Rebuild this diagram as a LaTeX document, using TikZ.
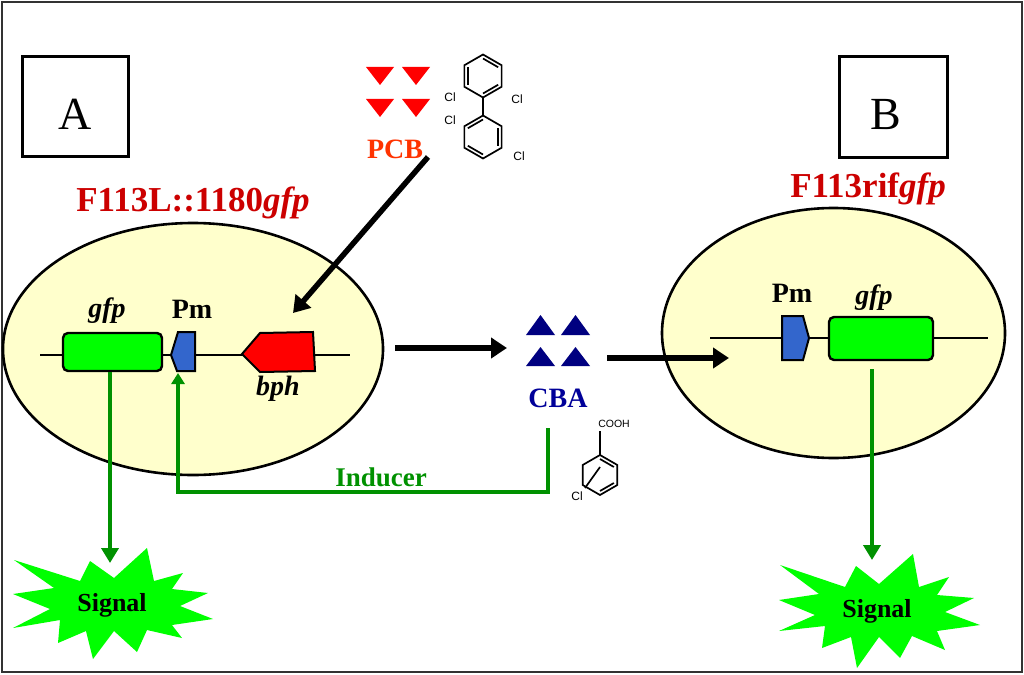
\documentclass[tikz,border=0pt]{standalone}
\usepackage{fontspec}
\setmainfont{Liberation Serif}
\newfontfamily\arialfont{Liberation Sans}
\usetikzlibrary{arrows.meta}
\definecolor{cellyellow}{RGB}{255,255,204}
\definecolor{genegreen}{RGB}{0,255,0}
\definecolor{pmblue}{RGB}{51,102,204}
\definecolor{bphred}{RGB}{255,0,0}
\definecolor{titlered}{RGB}{204,0,0}
\definecolor{pcborange}{RGB}{255,51,0}
\definecolor{cbablue}{RGB}{0,0,153}
\definecolor{trinavy}{RGB}{0,0,128}
\definecolor{arrowgreen}{RGB}{0,145,0}
\definecolor{framegray}{RGB}{50,50,50}
\begin{document}
\begin{tikzpicture}[x=1pt,y=-1pt,
  cell/.style={draw=black,line width=2.6,fill=cellyellow},
  dna/.style={draw=black,line width=2.2},
  genebox/.style={draw=black,line width=2.4,fill=genegreen,rounded corners=5,inner sep=0},
  genepoly/.style={draw=black,line width=2},
  lbl/.style={font=\fontsize{28}{30}\selectfont\bfseries,inner sep=0,anchor=base},
  title/.style={font=\fontsize{35}{38}\selectfont\bfseries,text=titlered,inner sep=0,anchor=base},
  letterbox/.style={draw=black,line width=3,fill=white},
  bigarrow/.style={draw=black,line width=5.5,-{Triangle[length=16,width=20]}},
  greenarrow/.style={draw=arrowgreen,line width=4.5,-{Triangle[length=15,width=17]}},
  inducerarrow/.style={draw=arrowgreen,line width=4,-{Triangle[length=11,width=13]}},
  bond/.style={draw=black,line width=1.7},
  chemlbl/.style={font=\arialfont\fontsize{12}{13}\selectfont,inner sep=0},
  sigtext/.style={font=\fontsize{26}{28}\selectfont\bfseries,inner sep=0,anchor=base}
]
\useasboundingbox (0,0) rectangle (1024,674);
\fill[white] (0,0) rectangle (1024,674);
\draw[draw=framegray,line width=2.5] (2,2) rectangle (1022,672);

% letter boxes
\draw[letterbox] (22,57) rectangle (128,156);
\node[inner sep=0,anchor=base,font=\fontsize{46}{48}\selectfont] (lblA) at (75,129) {A};
\draw[letterbox] (839,57) rectangle (947,157);
\node[inner sep=0,anchor=base,font=\fontsize{46}{48}\selectfont] (lblB) at (886,129) {B};

% titles
\node[title] (titleL) at (193,211) {F113L::1180\textit{gfp}};
\node[title] (titleR) at (868,197) {F113rif\textit{gfp}};

% cells
\draw[cell] (193,349) ellipse [x radius=190, y radius=126];
\draw[cell] (833.5,333) ellipse [x radius=171.5, y radius=125];

% left construct
\draw[dna] (40,355) -- (350,355);
\node[genebox,minimum width=99,minimum height=38] (gfpL) at (112.5,352) {};
\draw[genepoly,fill=pmblue] (171,355) -- (178,332) -- (195,332) -- (195,371) -- (177,371) -- cycle;
\coordinate (pmLbot) at (178,373);
\draw[genepoly,fill=bphred] (242,354) -- (260,333) -- (313,332) -- (315,371) -- (260,372) -- cycle;
\node[lbl] (gfpLlbl) at (107,317) {\textit{gfp}};
\node[lbl] (pmLlbl) at (192,318) {Pm};
\node[lbl] (bphlbl) at (278,395) {\textit{bph}};

% right construct
\draw[dna] (710,338) -- (988,338);
\draw[genepoly,fill=pmblue] (782,316) -- (803,316) -- (809,338) -- (803,360) -- (782,360) -- cycle;
\node[genebox,minimum width=104,minimum height=43] (gfpR) at (881,338.5) {};
\node[lbl] (pmRlbl) at (792,302) {Pm};
\node[lbl] (gfpRlbl) at (874,304) {\textit{gfp}};

% PCB triangles
\fill[bphred] (366,67) -- (394,67) -- (380,85) -- cycle;
\fill[bphred] (402,67) -- (430,67) -- (416,85) -- cycle;
\fill[bphred] (366,99) -- (394,99) -- (380,117) -- cycle;
\fill[bphred] (402,99) -- (430,99) -- (416,117) -- cycle;
\node[lbl,text=pcborange] (pcb) at (395,158) {PCB};

% PCB structure
\begin{scope}[shift={(483,76)}]
  \draw[bond] (90:21.5) -- (30:21.5) -- (-30:21.5) -- (-90:21.5) -- (-150:21.5) -- (150:21.5) -- cycle;
  \draw[bond] (30:17.5) -- (90:17.5);
  \draw[bond] (150:17.5) -- (210:17.5);
  \draw[bond] (270:17.5) -- (330:17.5);
\end{scope}
\draw[bond] (483,97.5) -- (483,115.5);
\begin{scope}[shift={(483,137)}]
  \draw[bond] (90:21.5) -- (30:21.5) -- (-30:21.5) -- (-90:21.5) -- (-150:21.5) -- (150:21.5) -- cycle;
  \draw[bond] (-30:17.5) -- (30:17.5);
  \draw[bond] (90:17.5) -- (150:17.5);
  \draw[bond] (210:17.5) -- (270:17.5);
\end{scope}
\node[chemlbl] (cl1) at (450,97) {Cl};
\node[chemlbl] (cl2) at (517,99) {Cl};
\node[chemlbl] (cl3) at (450,120) {Cl};
\node[chemlbl] (cl4) at (519,156) {Cl};

% CBA triangles
\fill[trinavy] (526,335) -- (555,335) -- (540.5,315) -- cycle;
\fill[trinavy] (561,335) -- (590,335) -- (575.5,315) -- cycle;
\fill[trinavy] (526,366) -- (555,366) -- (540.5,347) -- cycle;
\fill[trinavy] (561,366) -- (590,366) -- (575.5,347) -- cycle;
\node[lbl,text=cbablue] (cba) at (558,407) {CBA};

% CBA structure
\node[chemlbl,font=\arialfont\fontsize{10.5}{11}\selectfont] (cooh) at (614,424) {COOH};
\draw[bond] (600,431) -- (600,455);
\begin{scope}[shift={(600,475)}]
  \draw[bond] (90:20) -- (30:20) -- (-30:20) -- (-90:20) -- (-150:20) -- (150:20) -- cycle;
  \draw[bond] (-30:16) -- (-90:16);
  \draw[bond] (30:16) -- (90:16);
\end{scope}
\draw[bond] (585,488) -- (600,467);
\node[chemlbl] (cl5) at (577,496) {Cl};

% black arrows
\coordinate (pcbtail) at (428,157);
\coordinate (pcbtip) at (293,313);
\draw[bigarrow] (pcbtail) -- (pcbtip);
\coordinate (outL) at (395,348);
\coordinate (inCBA) at (507,348);
\coordinate (outCBA) at (607,358);
\coordinate (inR) at (729,358);
\draw[bigarrow] (outL) -- (inCBA);
\draw[bigarrow] (outCBA) -- (inR);

% signal stars
\begin{scope}[shift={(112,603)}]
  \fill[genegreen] (-98,-43) -- (-32,-22) -- (-22,-42) -- (2,-25) -- (35,-55) -- (42,-22) -- (71,-30) -- (60,-14) -- (96,-10) -- (68,3) -- (101,16) -- (60,22) -- (70,35) -- (35,27) -- (25,49) -- (2,28) -- (-19,56) -- (-26,28) -- (-54,40) -- (-52,17) -- (-99,25) -- (-62,6) -- (-99,-9) -- (-58,-15) -- cycle;
\end{scope}
\node[sigtext] (sigL) at (112,611) {Signal};
\begin{scope}[shift={(877,609)}]
  \fill[genegreen] (-97,-44) -- (-32,-22) -- (-21,-43) -- (2,-25) -- (36,-55) -- (42,-22) -- (72,-32) -- (60,-14) -- (97,-11) -- (68,3) -- (103,16) -- (60,22) -- (68,41) -- (35,27) -- (23,49) -- (2,28) -- (-20,59) -- (-26,28) -- (-55,39) -- (-52,17) -- (-98,22) -- (-62,6) -- (-98,-9) -- (-58,-15) -- cycle;
\end{scope}
\node[sigtext] (sigR) at (877,617) {Signal};

% green arrows
\coordinate (sigLtop) at (110,563);
\coordinate (sigRtop) at (872,560);
\draw[greenarrow] (gfpL.south -| sigLtop) -- (sigLtop);
\coordinate (gfpRbot) at (872,369);
\draw[greenarrow] (gfpRbot) -- (sigRtop);

% inducer
\coordinate (indStart) at (548,428);
\coordinate (indCorner) at (178,492);
\draw[inducerarrow] (indStart) |- (indCorner) -- (pmLbot);
\node[lbl,text=arrowgreen,font=\fontsize{27}{29}\selectfont\bfseries] (inducer) at (381,486) {Inducer};
\end{tikzpicture}
\end{document}
